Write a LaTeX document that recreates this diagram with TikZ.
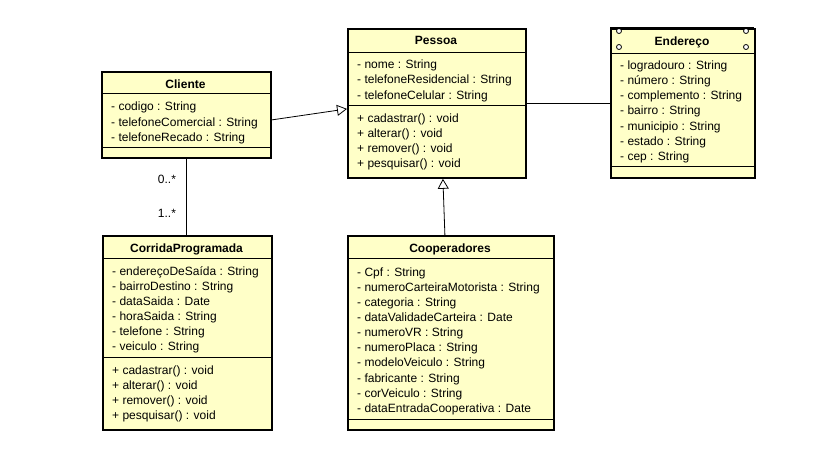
\documentclass[tikz,border=0pt]{standalone}
\usepackage{fontspec}
\setmainfont{Liberation Sans}
\usetikzlibrary{positioning,arrows.meta}
\definecolor{umlyellow}{RGB}{255,255,200}
\tikzset{
  classbox/.style={draw, line width=1.8pt, fill=umlyellow, inner sep=0pt, anchor=north west},
  classname/.style={font=\fontsize{12}{14}\selectfont\bfseries, inner sep=0pt, text height=8.6pt, text depth=0pt},
  member/.style={anchor=west, inner sep=0pt, font=\fontsize{12}{14}\selectfont, text height=8.6pt, text depth=0pt},
  mult/.style={left=10pt, inner sep=0pt, font=\fontsize{12}{14}\selectfont},
  sepline/.style={line width=0.9pt},
  link/.style={line width=0.8pt},
  inherit/.style={link, -{Triangle[open, length=10pt, width=11pt]}},
  corner/.style={draw, fill=white, line width=0.8pt, circle, inner sep=0pt, minimum size=5pt}
}

\begin{document}
\begin{tikzpicture}[x=1pt, y=-1pt]
  \useasboundingbox (0,0) rectangle (822,449);

  % Pessoa
  \node[classbox, minimum width=178pt, minimum height=149pt] (pessoa) at (347,28) {};
  \node[classname] (pessoa-name) at (436,40) {Pessoa};
  \draw[sepline] (347,52) -- (525,52);
  \draw[sepline] (347,105) -- (525,105);
  \foreach \m [count=\i from 0] in {- nome : String, - telefoneResidencial : String, - telefoneCelular : String}
    \node[member] (pessoa-a\i) at (357,64+15.6*\i) {\m};
  \foreach \m [count=\i from 0] in {+ cadastrar() : void, + alterar() : void, + remover() : void, + pesquisar() : void}
    \node[member] (pessoa-m\i) at (357,118.5+15*\i) {\m};

  % Endereco
  \node[classbox, minimum width=144pt, minimum height=149pt] (endereco) at (610,28) {};
  \foreach \cx/\cy [count=\i] in {619/31, 619/47, 746/31, 746/47}
    \node[corner] (endereco-c\i) at (\cx,\cy) {};
  \draw[line width=1.8pt] (610,28) -- (754,28);
  \node[classname] (endereco-name) at (682,41) {Endereço};
  \draw[sepline] (610,53) -- (754,53);
  \draw[sepline] (610,166) -- (754,166);
  \foreach \m [count=\i from 0] in {- logradouro : String, - número : String, - complemento : String, - bairro : String, - municipio : String, - estado : String, - cep : String}
    \node[member] (endereco-a\i) at (620,65+15.2*\i) {\m};

  % Cliente
  \node[classbox, minimum width=169pt, minimum height=86pt] (cliente) at (101,71) {};
  \node[classname] (cliente-name) at (185.5,84) {Cliente};
  \draw[sepline] (101,93) -- (270,93);
  \draw[sepline] (101,147) -- (270,147);
  \foreach \m [count=\i from 0] in {- codigo : String, - telefoneComercial : String, - telefoneRecado : String}
    \node[member] (cliente-a\i) at (111,106.5+15.3*\i) {\m};

  % CorridaProgramada
  \node[classbox, minimum width=169pt, minimum height=194pt] (corrida) at (102,235) {};
  \node[classname] (corrida-name) at (186.5,248) {CorridaProgramada};
  \draw[sepline] (102,258) -- (271,258);
  \draw[sepline] (102,357) -- (271,357);
  \foreach \m [count=\i from 0] in {- endereçoDeSaída : String, - bairroDestino : String, - dataSaida : Date, - horaSaida : String, - telefone : String, - veiculo : String}
    \node[member] (corrida-a\i) at (112,271.5+15*\i) {\m};
  \foreach \m [count=\i from 0] in {+ cadastrar() : void, + alterar() : void, + remover() : void, + pesquisar() : void}
    \node[member] (corrida-m\i) at (112,370+15*\i) {\m};

  % Cooperadores
  \node[classbox, minimum width=206pt, minimum height=194pt] (coop) at (347,235) {};
  \node[classname] (coop-name) at (450,248) {Cooperadores};
  \draw[sepline] (347,258) -- (553,258);
  \draw[sepline] (347,419) -- (553,419);
  \foreach \m [count=\i from 0] in {- Cpf : String, - numeroCarteiraMotorista : String, - categoria : String, - dataValidadeCarteira : Date, - numeroVR : String, - numeroPlaca : String, - modeloVeiculo : String, - fabricante : String, - corVeiculo : String, - dataEntradaCooperativa : Date}
    \node[member] (coop-a\i) at (357,272+15.1*\i) {\m};

  % relations
  \draw[inherit] ([yshift=-5pt]cliente.east) -- ([yshift=-5.5pt]pessoa.west);
  \draw[inherit] ([xshift=-6pt]coop.north) -- ([xshift=6pt]pessoa.south);
  \draw[link] (pessoa.east) -- (endereco.west);
  \draw[link] (cliente.south) -- (cliente.south |- corrida.north)
    node[mult, pos=0.27] (mult-cliente) {0..*}
    node[mult, pos=0.71] (mult-corrida) {1..*};
\end{tikzpicture}
\end{document}
